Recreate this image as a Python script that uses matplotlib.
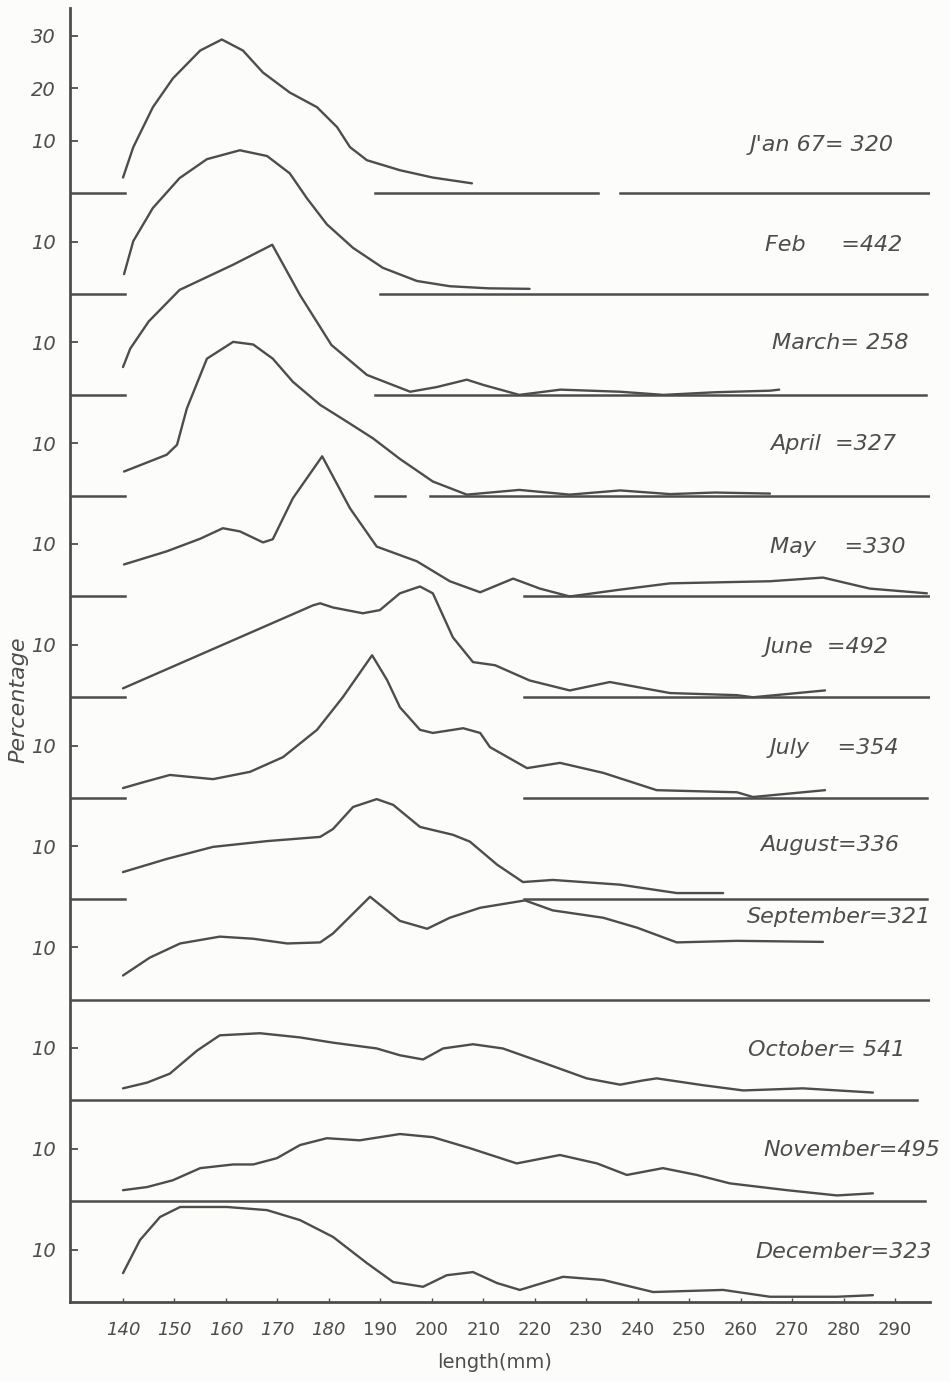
# Monthly length-frequency curves, stacked one above the other
import numpy as np
import matplotlib.pyplot as plt

# ---- data (percentage per length in mm) ----
jan_x = [140, 142, 145.8, 149.7, 155, 159.2, 163.3, 167.2, 172.4, 177.7, 181.6, 184.1, 187.4, 193.8, 200.2, 207.8]
jan_y = [3.0, 8.8, 16.4, 21.9, 27.2, 29.3, 27.2, 23.0, 19.2, 16.4, 12.6, 8.8, 6.3, 4.4, 3.0, 1.9]

feb_x = [140.2, 142, 145.8, 151, 156.3, 162.7, 168, 172.4, 175.7, 179.6, 184.7, 190.5, 197.1, 203.5, 211, 219]
feb_y = [3.8, 10.1, 16.4, 22.1, 25.7, 27.4, 26.3, 23.0, 18.3, 13.3, 8.8, 5.0, 2.5, 1.5, 1.1, 1.0]

mar_x = [140, 141.4, 145, 151, 161.4, 169, 174.4, 180.5, 187.4, 195.8, 201, 206.8, 210, 217, 225, 236.6, 245, 255, 265.7, 267.5]
mar_y = [5.3, 8.8, 14.0, 20.0, 24.8, 28.6, 19.0, 9.5, 3.8, 0.6, 1.5, 2.9, 1.9, 0.0, 1.0, 0.6, 0.0, 0.5, 0.8, 1.0]

apr_x = [140.2, 148.5, 150.5, 152.4, 156.3, 161.4, 165.3, 169.1, 173, 178.3, 183.5, 188.6, 193.8, 200.2, 206.8, 217, 226.8, 236.6, 246.3, 255, 265.7]
apr_y = [4.6, 7.8, 9.7, 16.6, 26.1, 29.3, 28.8, 26.1, 21.7, 17.3, 14.1, 10.9, 7.0, 2.7, 0.2, 1.1, 0.2, 1.0, 0.3, 0.6, 0.4]

may_x = [140.2, 148.5, 155, 159.4, 162.7, 167.2, 169.1, 173, 178.7, 184.1, 189.3, 197.1, 203.5, 209.4, 215.8, 221, 226.8, 236.6, 246.3, 265.7, 276, 285.1, 296.2]
may_y = [6.1, 8.6, 11.0, 13.0, 12.4, 10.3, 10.9, 18.7, 26.7, 16.8, 9.5, 6.7, 2.9, 0.8, 3.4, 1.5, 0.0, 1.3, 2.5, 2.9, 3.6, 1.5, 0.6]

jun_x = [140, 176.9, 178.3, 180.8, 186.6, 189.9, 193.8, 197.7, 200.2, 204.1, 208, 212.3, 219, 226.8, 234.6, 246.3, 259.3, 262.4, 276.4]
jun_y = [1.7, 17.5, 17.9, 17.1, 16.0, 16.6, 19.8, 21.1, 19.8, 11.4, 6.7, 6.1, 3.2, 1.3, 2.9, 0.8, 0.4, 0.0, 1.3]

jul_x = [140, 143.9, 149.1, 157.5, 164.7, 171.1, 177.7, 182.7, 188.4, 191.3, 193.8, 197.7, 200.2, 206.1, 209.4, 211.3, 218.5, 224.9, 233.3, 243.7, 259.3, 262.4, 276.4]
jul_y = [1.9, 3.0, 4.4, 3.6, 5.0, 7.8, 13.0, 19.2, 27.2, 22.5, 17.3, 13.0, 12.4, 13.3, 12.4, 9.7, 5.7, 6.7, 4.8, 1.5, 1.1, 0.2, 1.5]

aug_x = [140, 148.5, 157.5, 168, 178.3, 180.8, 184.7, 189.3, 192.5, 197.7, 204.1, 207.4, 212.7, 217.7, 223.5, 236.6, 247.6, 256.6]
aug_y = [5.1, 7.6, 9.9, 11.0, 11.8, 13.3, 17.5, 19.0, 17.9, 13.7, 12.2, 10.9, 6.5, 3.2, 3.6, 2.7, 1.1, 1.1]

sep_x = [140, 145.2, 151.1, 158.8, 165.3, 171.9, 178.3, 180.8, 188, 193.8, 199.1, 203.5, 209.4, 218.1, 223.5, 233.3, 239.9, 247.6, 259.3, 276]
sep_y = [4.6, 8.0, 10.7, 12.0, 11.6, 10.7, 10.9, 12.6, 19.6, 15.0, 13.5, 15.6, 17.5, 18.9, 17.0, 15.6, 13.7, 10.9, 11.2, 11.0]

oct_x = [140, 144.7, 149.1, 154.4, 158.8, 166.6, 174.4, 180.8, 189.3, 193.8, 198.3, 202.2, 208, 213.8, 221.6, 230.1, 236.6, 241, 243.7, 252.7, 260.5, 272.1, 285.7]
oct_y = [2.3, 3.4, 5.1, 9.5, 12.4, 12.8, 12.0, 11.0, 9.9, 8.6, 7.8, 9.9, 10.7, 9.9, 7.2, 4.2, 3.0, 3.8, 4.2, 2.9, 1.9, 2.3, 1.5]

nov_x = [140, 144.7, 149.7, 155, 161.4, 165.3, 169.9, 174.4, 179.6, 186, 193.8, 200.2, 207.4, 216.5, 224.9, 232.1, 237.9, 244.9, 251.5, 257.9, 269, 278.7, 285.7]
nov_y = [2.1, 2.7, 4.0, 6.3, 7.0, 7.0, 8.2, 10.7, 12.0, 11.6, 12.8, 12.2, 10.1, 7.2, 8.8, 7.2, 5.0, 6.3, 5.0, 3.4, 2.1, 1.1, 1.5]

dec_x = [140, 143.3, 147.2, 151.1, 160.2, 168, 174.4, 180.8, 187.4, 192.5, 198.3, 202.9, 208, 212.7, 217.1, 225.5, 233.3, 243, 256.6, 265.7, 278.7, 285.7]
dec_y = [5.5, 11.8, 16.2, 18.1, 18.1, 17.5, 15.6, 12.4, 7.4, 3.8, 2.9, 5.1, 5.7, 3.6, 2.3, 4.8, 4.2, 1.9, 2.3, 1.0, 1.0, 1.3]

month_labels = ["J'an 67= 320", "Feb     =442", "March= 258", "April  =327", "May    =330",
                "June  =492", "July    =354", "August=336", "September=321", "October= 541",
                "November=495", "December=323"]

x_ticks = [140, 150, 160, 170, 180, 190, 200, 210, 220, 230, 240, 250, 260, 270, 280, 290]

curves = [(jan_x, jan_y), (feb_x, feb_y), (mar_x, mar_y), (apr_x, apr_y), (may_x, may_y),
          (jun_x, jun_y), (jul_x, jul_y), (aug_x, aug_y), (sep_x, sep_y), (oct_x, oct_y),
          (nov_x, nov_y), (dec_x, dec_y)]

# ---- layout ----
ink = '#4d4d4d'
step = 19.2                      # vertical spacing between month baselines (% units)
offsets = [(11 - i) * step for i in range(12)]
x_lo, x_hi = 129.7, 296.8

# baseline pieces drawn on the right (and the short stub left of 140 mm)
base_right = [[(189, 232.3), (236.6, x_hi)],
              [(190, 296.2)],
              [(189, 296)],
              [(189, 194.8), (199.6, x_hi)],
              [(218, x_hi)], [(218, x_hi)], [(218, 296.2)], [(218, 296.2)],
              [(x_lo, x_hi)], [(x_lo, 294.3)], [(x_lo, 295.8)], []]

# label positions in pixels (left edge, centre height)
label_px = [(750, 145), (765, 245), (772, 343), (770, 444), (770, 547), (765, 647),
            (770, 748), (760, 845), (747, 917), (748, 1050), (763, 1150), (755, 1252)]

W, H = 950, 1382
fig = plt.figure(figsize=(W / 100, H / 100), dpi=100)
fig.patch.set_facecolor('#fcfcfa')
ax = fig.add_axes([70 / W, 1 - 1302 / H, 860 / W, 1294 / H])
ax.set_facecolor('#fcfcfa')

for i, (xs, ys) in enumerate(curves):
    off = offsets[i]
    ax.plot(xs, np.array(ys) + off, color=ink, lw=1.7, solid_capstyle='round')
    if i < 8:
        ax.plot([x_lo, 140.4], [off, off], color=ink, lw=1.8)
    for a, b in base_right[i]:
        ax.plot([a, b], [off, off], color=ink, lw=1.8)

# y ticks: a "10" in every panel, plus 20 and 30 for January
yt = [off + 10 for off in offsets] + [offsets[0] + 20, offsets[0] + 30]
ytl = ['10'] * 12 + ['20', '30']
ax.set_yticks(yt)
ax.set_yticklabels(ytl, fontsize=14, style='italic', color=ink)
ax.set_xticks(x_ticks)
ax.set_xticklabels([str(v) for v in x_ticks], fontsize=13, color=ink)
for t in ax.get_xticklabels()[:5]:
    t.set_style('italic')
ax.tick_params(axis='y', direction='in', length=6, width=1.3, color=ink, pad=10)
ax.tick_params(axis='x', direction='in', length=3, width=1.0, color=ink, pad=14)

ax.set_xlim(x_lo, x_hi)
ax.set_ylim(0, 246.5)
for s in ['top', 'right']:
    ax.spines[s].set_visible(False)
for s in ['left', 'bottom']:
    ax.spines[s].set_color(ink)
    ax.spines[s].set_linewidth(2.0)

for lab, (px, py) in zip(month_labels, label_px):
    fig.text(px / W, 1 - py / H, lab, fontsize=16, style='italic', color=ink,
             ha='left', va='center')

fig.text(18 / W, 1 - 700 / H, 'Percentage', rotation=90, fontsize=16, style='italic',
         color=ink, ha='center', va='center')
fig.text(495 / W, 1 - 1363 / H, 'length(mm)', fontsize=14, color=ink, ha='center', va='center')

plt.savefig('out.png', dpi=100, facecolor=fig.get_facecolor())
